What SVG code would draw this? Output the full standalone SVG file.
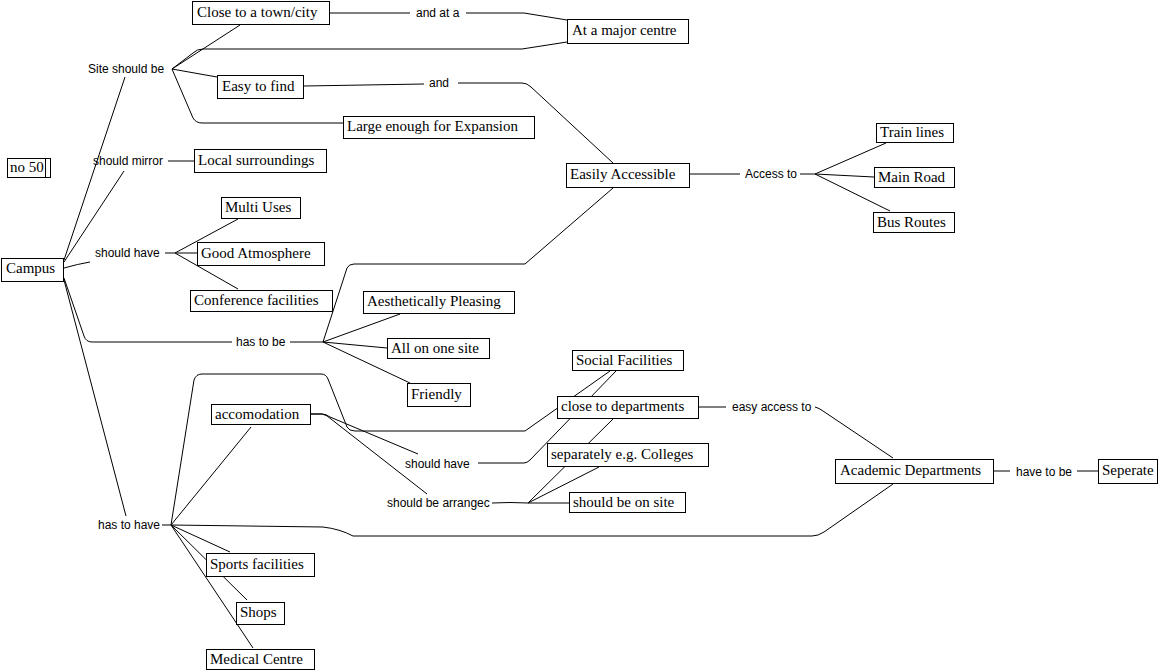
<svg xmlns="http://www.w3.org/2000/svg" width="1165" height="672" viewBox="0 0 1165 672">
<style>
.c{fill:none;stroke:#000;stroke-width:1}
.b{fill:#fff;stroke:#000;stroke-width:1}
.t{font-family:"Liberation Serif","Times New Roman",serif;font-size:15px;fill:#000}
.l{font-family:"Liberation Sans",Arial,sans-serif;font-size:12px;fill:#000}
</style>
<rect width="1165" height="672" fill="#fff"/>
<g id="connectors" class="c">
<path d="M64,260 L125,77"/>
<path d="M64,262 L124,171"/>
<path d="M64,268 Q78,264 90,262"/>
<path d="M64,278 L84,336 Q86,342 92,342 L232,342"/>
<path d="M64,280 L126,516"/>
<path d="M172,69 L240,25"/>
<path d="M172,69 L193,53 Q197,49 203,49 L522,49 L567,42"/>
<path d="M172,69 L217,77"/>
<path d="M172,69 L193,118 Q196,123 202,123 L343,123"/>
<path d="M329,13 L410,13"/>
<path d="M466,13 L524,13 L567,20"/>
<path d="M304,86 L424,84"/>
<path d="M458,83 L522,83 Q527,83 531,87 L613,163"/>
<path d="M168,161 L194,161"/>
<path d="M165,253 L175,253"/>
<path d="M175,253 L238,219"/>
<path d="M175,253 L197,253"/>
<path d="M175,253 L238,289"/>
<path d="M290,342 L323,342"/>
<path d="M323,342 L347,268 Q349,264 354,264 L525,264 L613,188"/>
<path d="M323,342 L400,314"/>
<path d="M323,342 L387,348"/>
<path d="M323,342 L410,383"/>
<path d="M690,174 L740,174"/>
<path d="M800,174 L815,174"/>
<path d="M815,174 L886,143"/>
<path d="M815,174 L874,177"/>
<path d="M815,174 L890,211"/>
<path d="M162,525 L171,525"/>
<path d="M171,525 L194,380 Q196,374 202,374 L321,374 Q326,374 328,379 L347,427 Q349,431 355,431 L525,431 L610,371"/>
<path d="M171,525 L251,427"/>
<path d="M311,414 L322,414 Q326,414 330,417 L418,454"/>
<path d="M311,414 L322,414 Q327,415 331,419 L427,494"/>
<path d="M478,463 L524,463 Q527,463 530,460 L616,371"/>
<path d="M492,503 Q510,502 528,503"/>
<path d="M528,503 L599,467"/>
<path d="M528,503 L613,419"/>
<path d="M528,503 L569,503"/>
<path d="M698,407 L726,407"/>
<path d="M815,407 Q819,408 823,411 L893,458"/>
<path d="M171,525 L323,527 Q340,529 353,536 L812,536 Q818,536 824,532 L893,484"/>
<path d="M171,525 L230,552"/>
<path d="M171,525 L247,600"/>
<path d="M171,525 L253,648"/>
<path d="M993,471 L1010,471"/>
<path d="M1077,471 L1098,471"/>
</g>
<g id="n-no50"><rect class="b" x="7.5" y="158.5" width="43" height="19"/><line class="c" x1="45.5" y1="158.5" x2="45.5" y2="177.5"/><text class="t" x="10" y="172">no 50</text></g>
<g id="n-close"><rect class="b" x="192.5" y="1.5" width="137" height="23"/><text class="t" x="197" y="17">Close to a town/city</text></g>
<g id="n-major"><rect class="b" x="567.5" y="19.5" width="121" height="24"/><text class="t" x="572" y="35">At a major centre</text></g>
<g id="n-easyfind"><rect class="b" x="217.5" y="75.5" width="86" height="23"/><text class="t" x="222" y="91">Easy to find</text></g>
<g id="n-large"><rect class="b" x="343.5" y="116.5" width="191" height="22"/><text class="t" x="347" y="131">Large enough for Expansion</text></g>
<g id="n-local"><rect class="b" x="194.5" y="149.5" width="132" height="23"/><text class="t" x="198" y="165">Local surroundings</text></g>
<g id="n-access"><rect class="b" x="566.5" y="163.5" width="123" height="24"/><text class="t" x="570" y="179">Easily Accessible</text></g>
<g id="n-train"><rect class="b" x="876.5" y="123.5" width="77" height="19"/><text class="t" x="880" y="137">Train lines</text></g>
<g id="n-road"><rect class="b" x="874.5" y="167.5" width="80" height="20"/><text class="t" x="878" y="182">Main Road</text></g>
<g id="n-bus"><rect class="b" x="873.5" y="212.5" width="81" height="20"/><text class="t" x="877" y="227">Bus Routes</text></g>
<g id="n-multi"><rect class="b" x="221.5" y="197.5" width="79" height="21"/><text class="t" x="225" y="212">Multi Uses</text></g>
<g id="n-atmos"><rect class="b" x="197.5" y="242.5" width="127" height="23"/><text class="t" x="201" y="258">Good Atmosphere</text></g>
<g id="n-conf"><rect class="b" x="190.5" y="290.5" width="142" height="21"/><text class="t" x="194" y="305">Conference facilities</text></g>
<g id="n-campus"><rect class="b" x="1.5" y="258.5" width="62" height="23"/><text class="t" x="6" y="273">Campus</text></g>
<g id="n-aesth"><rect class="b" x="363.5" y="291.5" width="151" height="22"/><text class="t" x="367" y="306">Aesthetically Pleasing</text></g>
<g id="n-onesite"><rect class="b" x="387.5" y="338.5" width="102" height="20"/><text class="t" x="391" y="353">All on one site</text></g>
<g id="n-friendly"><rect class="b" x="407.5" y="383.5" width="63" height="23"/><text class="t" x="411" y="399">Friendly</text></g>
<g id="n-accom"><rect class="b" x="211.5" y="404.5" width="99" height="20"/><text class="t" x="215" y="419">accomodation</text></g>
<g id="n-social"><rect class="b" x="572.5" y="350.5" width="111" height="20"/><text class="t" x="576" y="365">Social Facilities</text></g>
<g id="n-closedep"><rect class="b" x="557.5" y="396.5" width="141" height="22"/><text class="t" x="561" y="411">close to departments</text></g>
<g id="n-separately"><rect class="b" x="547.5" y="443.5" width="161" height="23"/><text class="t" x="551" y="459">separately e.g. Colleges</text></g>
<g id="n-onsite"><rect class="b" x="569.5" y="492.5" width="116" height="20"/><text class="t" x="573" y="507">should be on site</text></g>
<g id="n-academic"><rect class="b" x="835.5" y="459.5" width="158" height="24"/><text class="t" x="840" y="475">Academic Departments</text></g>
<g id="n-seperate"><rect class="b" x="1098.5" y="459.5" width="59" height="24"/><text class="t" x="1102" y="475">Seperate</text></g>
<g id="n-sports"><rect class="b" x="206.5" y="553.5" width="108" height="23"/><text class="t" x="210" y="569">Sports facilities</text></g>
<g id="n-shops"><rect class="b" x="236.5" y="602.5" width="48" height="22"/><text class="t" x="240" y="617">Shops</text></g>
<g id="n-medical"><rect class="b" x="206.5" y="649.5" width="108" height="20"/><text class="t" x="210" y="664">Medical Centre</text></g>
<g id="labels">
<g id="l-site"><text class="l" x="88" y="73">Site should be</text></g>
<g id="l-mirror"><text class="l" x="93" y="165">should mirror</text></g>
<g id="l-shouldhave1"><text class="l" x="95" y="257">should have</text></g>
<g id="l-hastobe"><text class="l" x="236" y="346">has to be</text></g>
<g id="l-hastohave"><text class="l" x="98" y="529">has to have</text></g>
<g id="l-andata"><text class="l" x="416" y="17">and at a</text></g>
<g id="l-and"><text class="l" x="429" y="87">and</text></g>
<g id="l-accessto"><text class="l" x="745" y="178">Access to</text></g>
<g id="l-shouldhave2"><text class="l" x="405" y="468">should have</text></g>
<g id="l-arranged"><text class="l" x="387" y="507">should be arrangec</text></g>
<g id="l-easyaccess"><text class="l" x="732" y="411">easy access to</text></g>
<g id="l-havetobe"><text class="l" x="1016" y="476">have to be</text></g>
</g>
</svg>
